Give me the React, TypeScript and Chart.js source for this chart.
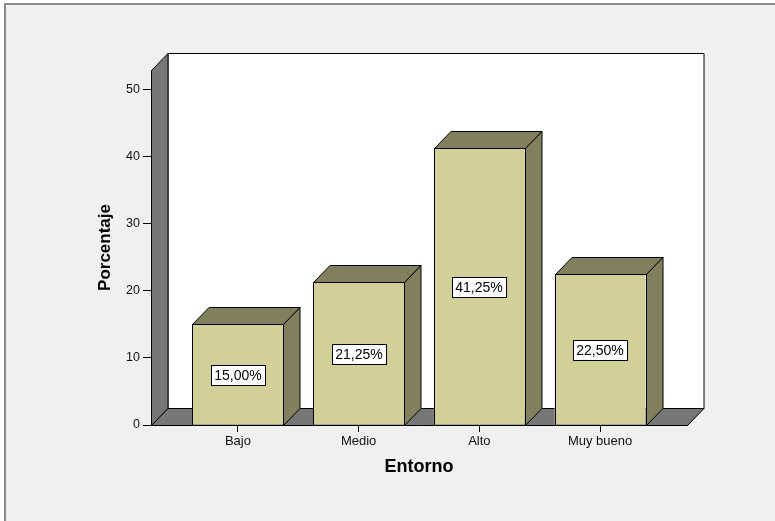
import React, { useEffect, useRef } from "react";
import { Chart, registerables } from "chart.js";

Chart.register(...registerables);

const categories = ["Bajo", "Medio", "Alto", "Muy bueno"];
const percentages = [15.0, 21.25, 41.25, 22.5];
const yTicks = [0, 10, 20, 30, 40, 50];
const yMax = 52.9;
const xMin = -0.72;
const xMax = 3.72;
const xTitle = "Entorno";
const yTitle = "Porcentaje";

const W = 775;
const H = 521;
const DEPTH_X = 16.5;
const DEPTH_Y = 17;
const FRONT = "#d3cf99";
const DARK = "#827f5c";
const WALL = "#777777";
const BG = "#f0f0f0";
const FONT = "'Liberation Sans', Arial, sans-serif";

const fmt = (v: number) => v.toFixed(2).replace(".", ",") + "%";

function poly(ctx: CanvasRenderingContext2D, pts: number[][], fill: string) {
  ctx.beginPath();
  ctx.moveTo(pts[0][0], pts[0][1]);
  for (let i = 1; i < pts.length; i++) ctx.lineTo(pts[i][0], pts[i][1]);
  ctx.closePath();
  ctx.fillStyle = fill;
  ctx.fill();
  ctx.strokeStyle = "#000";
  ctx.lineWidth = 1;
  ctx.stroke();
}

const scene = {
  id: "scene",
  beforeDraw(chart: any) {
    const ctx = chart.ctx as CanvasRenderingContext2D;
    ctx.save();
    ctx.fillStyle = "#ffffff";
    ctx.fillRect(0, 0, W, H);
    ctx.fillStyle = BG;
    ctx.fillRect(5, 4, W - 5, H - 4);
    ctx.fillStyle = "#8c8c8c";
    ctx.fillRect(4, 3, W - 4, 2);
    ctx.fillRect(4, 3, 2, H - 3);
    ctx.restore();
  },
  beforeDatasetsDraw(chart: any) {
    const ctx = chart.ctx as CanvasRenderingContext2D;
    const { left, right, top, bottom } = chart.chartArea;
    const l = Math.round(left) + 0.5;
    const r = Math.round(right) + 0.5;
    const t = Math.round(top) + 0.5;
    const b = Math.round(bottom) + 0.5;
    ctx.save();
    poly(ctx, [[l + DEPTH_X, t - DEPTH_Y], [r + DEPTH_X, t - DEPTH_Y], [r + DEPTH_X, b - DEPTH_Y], [l + DEPTH_X, b - DEPTH_Y]], "#ffffff");
    poly(ctx, [[l, b], [l, t], [l + DEPTH_X, t - DEPTH_Y], [l + DEPTH_X, b - DEPTH_Y]], WALL);
    poly(ctx, [[l, b], [r, b], [r + DEPTH_X, b - DEPTH_Y], [l + DEPTH_X, b - DEPTH_Y]], WALL);
    ctx.restore();
  },
  afterDatasetsDraw(chart: any) {
    const ctx = chart.ctx as CanvasRenderingContext2D;
    const meta = chart.getDatasetMeta(0);
    const ys = chart.scales.y;
    ctx.save();
    meta.data.forEach((bar: any) => {
      const { x, y, base, width } = bar.getProps(["x", "y", "base", "width"], true);
      const x0 = Math.round(x - width / 2) + 0.5;
      const x1 = Math.round(x + width / 2) + 0.5;
      const yt = Math.round(y) + 0.5;
      const yb = Math.round(base) + 0.5;
      poly(ctx, [[x0, yt], [x1, yt], [x1 + DEPTH_X, yt - DEPTH_Y], [x0 + DEPTH_X, yt - DEPTH_Y]], DARK);
      poly(ctx, [[x1, yt], [x1 + DEPTH_X, yt - DEPTH_Y], [x1 + DEPTH_X, yb - DEPTH_Y], [x1, yb]], DARK);
      ctx.strokeStyle = "#000";
      ctx.lineWidth = 1;
      ctx.strokeRect(x0, yt, x1 - x0, yb - yt);
    });
    ctx.font = "14px " + FONT;
    ctx.textAlign = "center";
    ctx.textBaseline = "middle";
    meta.data.forEach((bar: any, i: number) => {
      const { x } = bar.getProps(["x"], true);
      const v = percentages[i];
      const cy = ys.getPixelForValue(v / 2);
      const txt = fmt(v);
      const tw = ctx.measureText(txt).width;
      const bw = Math.round(tw + 7);
      const bh = 20;
      const bx = Math.round(x - bw / 2) + 0.5;
      const by = Math.round(cy - bh / 2) + 0.5;
      ctx.fillStyle = "#ffffff";
      ctx.fillRect(bx, by, bw, bh);
      ctx.strokeStyle = "#000";
      ctx.strokeRect(bx, by, bw, bh);
      ctx.fillStyle = "#000";
      ctx.fillText(txt, Math.round(x), Math.round(cy) + 1);
    });
    ctx.restore();
  },
};

export default function App() {
  const ref = useRef<HTMLCanvasElement | null>(null);
  useEffect(() => {
    if (!ref.current) return;
    const chart = new Chart(ref.current, {
      type: "bar",
      data: {
        datasets: [
          {
            data: percentages.map((v, i) => ({ x: i, y: v })),
            backgroundColor: FRONT,
            borderColor: "#000",
            borderWidth: 0,
            categoryPercentage: 1,
            barPercentage: 0.754,
          },
        ],
      },
      options: {
        responsive: false,
        animation: false,
        events: [],
        layout: { padding: { left: 0, top: 70, right: W - 687, bottom: 0 } },
        plugins: { legend: { display: false }, tooltip: { enabled: false } },
        scales: {
          x: {
            type: "linear",
            min: xMin,
            max: xMax,
            offset: false,
            afterBuildTicks: (s: any) => {
              s.ticks = categories.map((_, i) => ({ value: i }));
            },
            afterFit: (s: any) => {
              s.height = H - 425;
            },
            ticks: {
              callback: (v: any) => categories[Math.round(Number(v))] ?? "",
              font: { family: FONT, size: 13 },
              color: "#111",
              padding: 2,
              maxRotation: 0,
              autoSkip: false,
            },
            grid: { offset: false, drawOnChartArea: false, drawTicks: true, tickLength: 7, color: "#000" },
            border: { display: true, color: "#000" },
            title: {
              display: true,
              text: xTitle,
              font: { family: FONT, size: 18, weight: "bold" },
              color: "#000",
              padding: { top: 0, bottom: 43 },
            },
          },
          y: {
            min: 0,
            max: yMax,
            afterBuildTicks: (s: any) => {
              s.ticks = yTicks.map((v) => ({ value: v }));
            },
            afterFit: (s: any) => {
              s.width = 151;
            },
            ticks: {
              font: { family: FONT, size: 12.5 },
              color: "#111",
              padding: 3,
            },
            grid: { drawOnChartArea: false, drawTicks: true, tickLength: 8, color: "#000" },
            border: { display: true, color: "#000" },
            title: {
              display: true,
              text: yTitle,
              font: { family: FONT, size: 17, weight: "bold" },
              color: "#000",
              padding: { top: 95, bottom: 0 },
            },
          },
        },
      },
      plugins: [scene],
    });
    return () => chart.destroy();
  }, []);
  return (
    <canvas
      ref={ref}
      width={W}
      height={H}
      style={{ position: "fixed", left: 0, top: 0, width: W, height: H, display: "block" }}
    />
  );
}
